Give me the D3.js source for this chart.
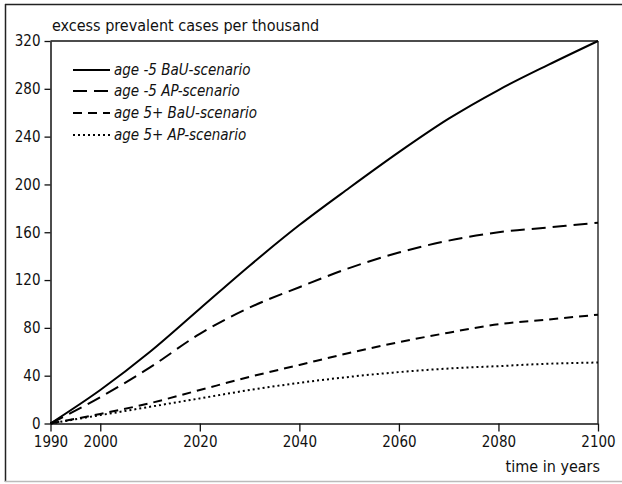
<!DOCTYPE html>
<html>
<head>
<meta charset="utf-8">
<title>excess prevalent cases</title>
<script src="https://cdn.jsdelivr.net/npm/d3@7"></script>
<style>
body { margin: 0; background: #fff; }
svg text { font-family: "DejaVu Sans Condensed", "Liberation Sans", sans-serif; fill: #111; }
</style>
</head>
<body>
<div id="chart"></div>
<script>
// values
var years = [1990, 2000, 2010, 2020, 2030, 2040, 2050, 2060, 2070, 2080, 2090, 2100];
var young_bau = [0, 28, 60, 96, 132, 166, 197, 227, 255, 279, 300, 320];
var young_ap  = [0, 22, 47, 75, 97, 114, 130, 143, 153, 160, 164, 168];
var old_bau   = [0, 8, 17, 28, 39, 49, 59, 68, 76, 83, 87, 91];
var old_ap    = [0, 7, 14, 21, 28, 34, 39, 43, 46, 48, 50, 51];
var seriesNames = ["age -5 BaU-scenario", "age -5 AP-scenario", "age 5+ BaU-scenario", "age 5+ AP-scenario"];
var xTicks = [1990, 2000, 2020, 2040, 2060, 2080, 2100];
var yTicks = [0, 40, 80, 120, 160, 200, 240, 280, 320];

var W = 622, H = 484;
var dashes = [null, "14,7", "9,6", "2,3"];
var series = [young_bau, young_ap, old_bau, old_ap];

var svg = d3.select("#chart").append("svg")
  .attr("width", W).attr("height", H);

// outer frame
svg.append("line").attr("x1", 5).attr("y1", 4.5).attr("x2", W).attr("y2", 4.5)
  .attr("stroke", "#222").attr("stroke-width", 1.5);
svg.append("line").attr("x1", 5.5).attr("y1", 4).attr("x2", 5.5).attr("y2", 482)
  .attr("stroke", "#222").attr("stroke-width", 1.5);
svg.append("line").attr("x1", 5).attr("y1", 481.5).attr("x2", W).attr("y2", 481.5)
  .attr("stroke", "#bbb").attr("stroke-width", 1.5);

var x = d3.scaleLinear().domain([1990, 2100]).range([50.5, 598]);
var y = d3.scaleLinear().domain([0, 320]).range([423.5, 41]);

// plot box top and right
svg.append("line").attr("x1", x(1990)).attr("x2", x(2100)).attr("y1", y(320)).attr("y2", y(320))
  .attr("stroke", "#111").attr("stroke-width", 1.3);
svg.append("line").attr("x1", x(2100)).attr("x2", x(2100)).attr("y1", y(320)).attr("y2", y(0))
  .attr("stroke", "#111").attr("stroke-width", 1.3);

var yAxis = svg.append("g").attr("transform", "translate(" + x(1990) + ",0)")
  .call(d3.axisLeft(y).tickValues(yTicks).tickSize(6).tickPadding(4).tickSizeOuter(0));
var xAxis = svg.append("g").attr("transform", "translate(0," + y(0) + ")")
  .call(d3.axisBottom(x).tickValues(xTicks).tickFormat(d3.format("d")).tickSize(8).tickPadding(5).tickSizeOuter(0));
[yAxis, xAxis].forEach(function (g) {
  g.select(".domain").attr("stroke", "#111").attr("stroke-width", 1.5);
  g.selectAll(".tick line").attr("stroke", "#111").attr("stroke-width", 1.3);
  g.selectAll("text").attr("font-size", 15).attr("font-family", null).attr("fill", "#111");
});

var line = d3.line()
  .x(function (d, i) { return x(years[i]); })
  .y(function (d) { return y(d); })
  .curve(d3.curveMonotoneX);

series.forEach(function (s, k) {
  svg.append("path").datum(s)
    .attr("d", line)
    .attr("fill", "none")
    .attr("stroke", "#000")
    .attr("stroke-width", 2)
    .attr("stroke-dasharray", dashes[k]);
});

// legend
var legendY = [70, 91, 113, 135];
seriesNames.forEach(function (name, k) {
  svg.append("line").attr("x1", 73).attr("x2", 110)
    .attr("y1", legendY[k]).attr("y2", legendY[k])
    .attr("stroke", "#000").attr("stroke-width", 2)
    .attr("stroke-dasharray", dashes[k]);
  svg.append("text").attr("x", 114).attr("y", legendY[k] + 5)
    .attr("font-size", 15).attr("font-style", "italic").text(name);
});

svg.append("text").attr("x", 52).attr("y", 31).attr("font-size", 16)
  .text("excess prevalent cases per thousand");
svg.append("text").attr("x", 600).attr("y", 472).attr("font-size", 16)
  .attr("text-anchor", "end").text("time in years");
</script>
</body>
</html>
